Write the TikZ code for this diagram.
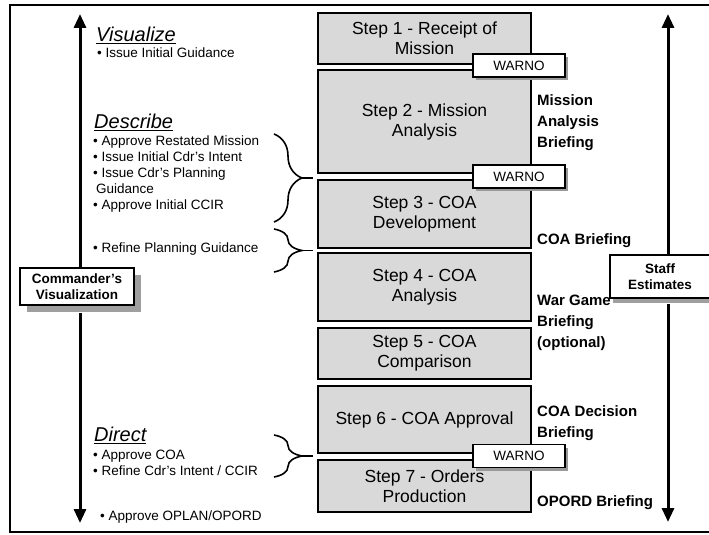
\documentclass[tikz,border=0pt]{standalone}
\usepackage{fontspec}
\setmainfont{Liberation Sans}
\usetikzlibrary{arrows.meta,shadows,decorations.pathreplacing}
\definecolor{stepgray}{RGB}{217,217,217}

\begin{document}
\begin{tikzpicture}[x=1pt,y=-1pt,>={Triangle[width=12pt,length=14pt]},
  step box/.style={draw,line width=1.8pt,fill=stepgray,minimum width=213pt,align=center,font=\fontsize{17.5}{20}\selectfont},
  warno box/.style={draw,line width=1.8pt,fill=white,minimum width=92pt,minimum height=23pt,inner sep=0pt,font=\fontsize{13.5}{16}\selectfont,drop shadow={shadow xshift=3pt,shadow yshift=-3pt,fill=gray!80,opacity=1}},
  side box/.style={draw,line width=1.8pt,fill=white,align=center,inner sep=0pt,font=\bfseries\fontsize{13.5}{16}\selectfont},
  brief/.style={anchor=west,align=left,inner sep=0pt,font=\bfseries\fontsize{15}{21}\selectfont},
  head/.style={anchor=west,inner sep=0pt,font=\itshape\fontsize{20}{24}\selectfont},
  note/.style={anchor=west,align=left,inner sep=0pt,font=\fontsize{13.5}{16}\selectfont},
  cbrace/.style={decorate,decoration={brace,amplitude=28pt},line width=1.6pt},
  lifeline/.style={->,line width=3pt}]
    \useasboundingbox (0,0) rectangle (709,535);
    \draw[line width=2.5pt] (10,5) rectangle (716,532);

    % the seven steps
    \node[step box,minimum height=51pt] (s1) at (424.5,38.5) {Step 1 - Receipt of\\Mission};
    \node[step box,minimum height=103pt] (s2) at (424.5,121.5) {Step 2 - Mission\\Analysis};
    \node[step box,minimum height=68pt] (s3) at (424.5,214) {Step 3 - COA\\Development};
    \node[step box,minimum height=68pt] (s4) at (424.5,287) {Step 4 - COA\\Analysis};
    \node[step box,minimum height=51pt] (s5) at (424.5,353.5) {Step 5 - COA\\Comparison};
    \node[step box,minimum height=67pt] (s6) at (424.5,419.5) {Step 6 - COA Approval};
    \node[step box,minimum height=52pt] (s7) at (424.5,486) {Step 7 - Orders\\Production};

    \node[warno box] (w1) at (519,65.5) {WARNO};
    \node[warno box] (w2) at (519,176.5) {WARNO};
    \node[warno box] (w3) at (519,456) {WARNO};

    % briefings
    \node[brief] (b2) at (537,123) {Mission\\Analysis\\Briefing};
    \node[brief] (b3) at (537,241) {COA Briefing};
    \node[brief] (b4) at (537,323) {War Game\\Briefing\\(optional)};
    \node[brief] (b6) at (537,423) {COA Decision\\Briefing};
    \node[brief] (b7) at (537,503) {OPORD Briefing};

    % commander side
    \node[head] (vis) at (96,35) {\underline{Visualize}};
    \node[note] (vis1) at (97,53) {• Issue Initial Guidance};
    \node[head] (des) at (94,122) {\underline{Describe}};
    \node[note] (des1) at (93,174) {• Approve Restated Mission\\• Issue Initial Cdr's Intent\\• Issue Cdr's Planning\\\hspace*{3pt}Guidance\\• Approve Initial CCIR};
    \node[note] (des2) at (93,249) {• Refine Planning Guidance};
    \node[head] (dir) at (94,435) {\underline{Direct}};
    \node[note] (dir1) at (93,462.5) {• Approve COA\\• Refine Cdr's Intent / CCIR};
    \node[note] (dir2) at (100,517) {• Approve OPLAN/OPORD};

    \draw[cbrace] (274,134) -- (274,222);
    \draw[cbrace] (274,229) -- (274,272);
    \draw[cbrace] (274,435) -- (274,477);
    \coordinate (t1) at (302,178); \coordinate (e1) at (313,178);
    \coordinate (t2) at (302,250.5); \coordinate (e2) at (313,250.5);
    \coordinate (t3) at (302,456); \coordinate (e3) at (313,456);
    \draw[line width=1.6pt] (t1) -- (e1);
    \draw[line width=1.6pt] (t2) -- (e2);
    \draw[line width=1.6pt] (t3) -- (e3);

    % the two lifelines
    \coordinate (ltop) at (80,14);
    \coordinate (lbot) at (80,523);
    \coordinate (rtop) at (668,14);
    \coordinate (rbot) at (668,522);
    \node[side box,minimum width=114pt,minimum height=37pt,drop shadow={shadow xshift=7pt,shadow yshift=-7pt,fill=gray!75,opacity=1}] (cv) at (77,286.5) {Commander's\\Visualization};
    \node[side box,minimum width=100pt,minimum height=43pt,drop shadow={shadow xshift=3pt,shadow yshift=-5pt,fill=gray!75,opacity=1}] (se) at (660,276.5) {Staff\\Estimates};
    \draw[lifeline] (cv.north -| ltop) -- (ltop);
    \draw[lifeline] (cv.south -| lbot) ++(0,7) -- (lbot);
    \draw[lifeline] (se.north -| rtop) -- (rtop);
    \draw[lifeline] (se.south -| rbot) ++(0,5) -- (rbot);
\end{tikzpicture}
\end{document}
